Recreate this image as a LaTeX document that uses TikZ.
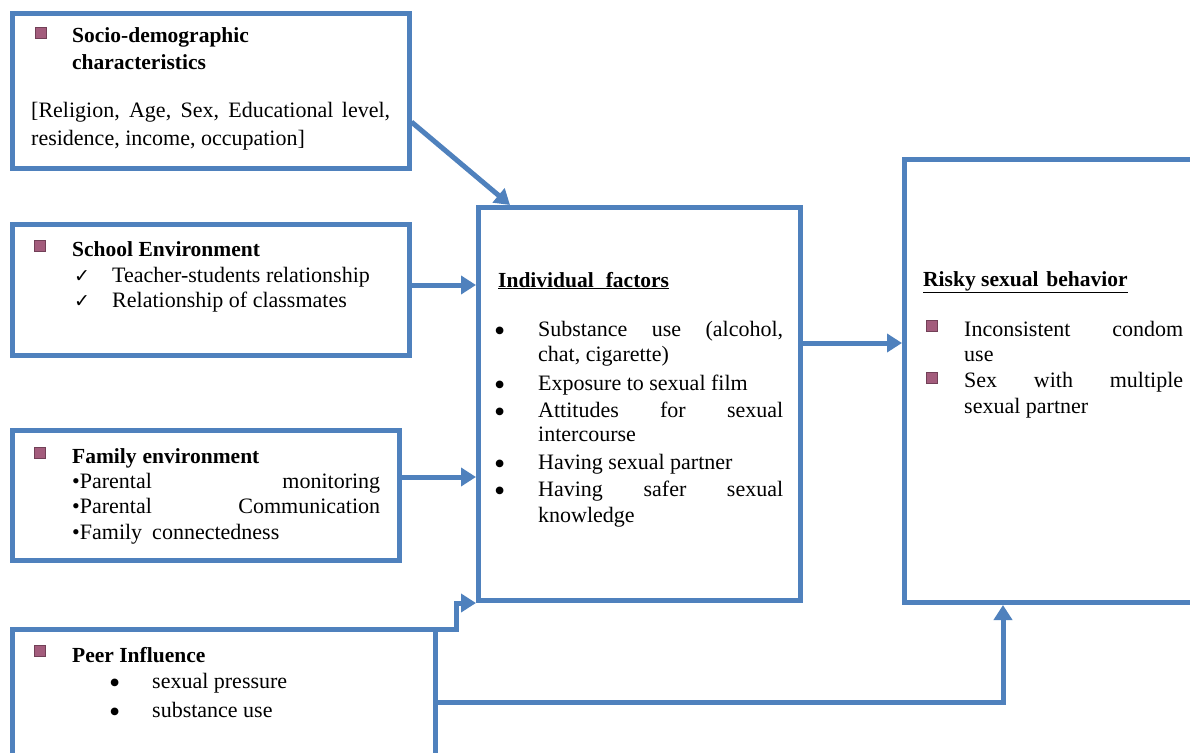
\documentclass[tikz,border=0pt]{standalone}
\usepackage{fontspec}
\setmainfont{Liberation Serif}
\newfontfamily\symfont{DejaVu Sans}
\usetikzlibrary{arrows.meta}
\definecolor{boxblue}{RGB}{79,129,189}
\definecolor{picbullet}{RGB}{163,92,124}
\newcommand{\jline}[2]{\makebox[#1][s]{#2}}
\newcommand{\bigdot}{\smash{\raisebox{-5bp}{\fontsize{32bp}{32bp}\selectfont •}}}
\tikzset{frame/.style={draw=boxblue,line width=5bp,inner sep=0pt}}
\tikzset{arr/.style={draw=boxblue,line width=5bp,-{Triangle[length=15bp,width=18bp]}}}
\tikzset{txt/.style={anchor=base west,inner sep=0pt,font=\fontsize{22bp}{26bp}\selectfont}}
\tikzset{head/.style={txt,font=\fontsize{21.5bp}{26bp}\selectfont\bfseries}}
\tikzset{icon/.style={draw=picbullet!70!black,line width=.6bp,fill=picbullet,minimum size=11bp,inner sep=0pt}}

\begin{document}
\begin{tikzpicture}[x=1bp,y=-1bp]
    \fill[white] (0,0) rectangle (1190,753);
    \useasboundingbox (0,0) rectangle (1190,753);

    % boxes
    \node[frame,minimum width=396bp,minimum height=154.5bp] (socio) at (211,90.75) {};
    \node[frame,minimum width=396bp,minimum height=130.5bp] (school) at (211,289.75) {};
    \node[frame,minimum width=386.5bp,minimum height=130bp] (family) at (206.25,495.5) {};
    \node[frame,minimum width=422.5bp,minimum height=145bp] (peer) at (224.25,702) {};
    \node[frame,minimum width=322bp,minimum height=393bp] (ind) at (639.5,404) {};
    \node[frame,minimum width=395.5bp,minimum height=442.5bp] (risky) at (1102.25,381.25) {};

    % socio-demographic
    \node[icon] (socio-ic) at (41,32.5) {};
    \node[head] (socio-h1) at (72,43) {Socio-demographic};
    \node[head] (socio-h2) at (72,70) {characteristics};
    \node[txt] (socio-l1) at (31,118) {\jline{359bp}{[Religion, Age, Sex, Educational level,}};
    \node[txt] (socio-l2) at (31,145) {residence, income, occupation]};

    % school
    \node[icon] (school-ic) at (40,246) {};
    \node[head] (school-h) at (72,256.5) {School Environment};
    \foreach \yy/\tx [count=\i] in {282/Teacher-students relationship,307/Relationship of classmates}{
      \node[txt] (school-c\i) at (74,\yy) {\symfont\fontsize{19bp}{20bp}\selectfont ✓};
      \node[txt] (school-l\i) at (112,\yy) {\tx};
    }

    % family
    \node[icon] (family-ic) at (40,452.5) {};
    \node[head] (family-h) at (72,463) {Family\hspace{6bp}environment};
    \node[txt] (family-l1) at (72,488) {\jline{308bp}{•Parental monitoring}};
    \node[txt] (family-l2) at (72,513) {\jline{308bp}{•Parental Communication}};
    \node[txt] (family-l3) at (72,539) {•Family\hspace{10bp}connectedness};

    % peer
    \node[icon] (peer-ic) at (40,651) {};
    \node[head] (peer-h) at (72,662) {Peer Influence};
    \foreach \yy/\tx [count=\i] in {688/sexual pressure,717/substance use}{
      \node[txt] (peer-b\i) at (109,\yy) {\bigdot};
      \node[txt] (peer-l\i) at (152,\yy) {\tx};
    }

    % individual factors
    \node[head] (ind-h) at (498,287) {\underline{Individual\hspace{12bp}factors}};
    \foreach \yy [count=\i] in {336,390,417,469,496}
      \node[txt] (ind-b\i) at (494,\yy) {\bigdot};
    \foreach \yy/\tx [count=\i] in {336/{\jline{245bp}{Substance use (alcohol,}},361/{chat, cigarette)},
        390/{Exposure to sexual film},417/{\jline{245bp}{Attitudes for sexual}},441/{intercourse},
        469/{Having sexual partner},496/{\jline{245bp}{Having safer sexual}},522/{knowledge}}
      \node[txt] (ind-l\i) at (538,\yy) {\tx};

    % risky sexual behavior
    \node[head] (risky-h) at (923,286) {\underline{Risky sexual\hspace{8bp}behavior}};
    \foreach \yy [count=\i] in {326,377.5}
      \node[icon] (risky-ic\i) at (931.5,\yy) {};
    \foreach \yy/\tx [count=\i] in {336/{\jline{219bp}{Inconsistent condom}},361/{use},
        387/{\jline{219bp}{Sex with multiple}},413/{sexual partner}}
      \node[txt] (risky-l\i) at (964,\yy) {\tx};

    % connectors
    \draw[arr] ([yshift=-31.25bp]socio.east) -- ([xshift=34bp]ind.north west);
    \draw[arr] ([yshift=4.75bp]school.east) -- ([yshift=4.75bp]school.east -| ind.west);
    \draw[arr] ([yshift=18.5bp]family.east) -- ([yshift=18.5bp]family.east -| ind.west);
    \draw[arr] ([yshift=-2.5bp]peer.north east) -- ++(18,0) |- (ind.south west);
    \draw[arr] ([yshift=61bp]ind.east) -- ([yshift=61bp]ind.east -| risky.west);
    \draw[arr] (peer.east) -| ([xshift=101bp]risky.south west);
\end{tikzpicture}
\end{document}
